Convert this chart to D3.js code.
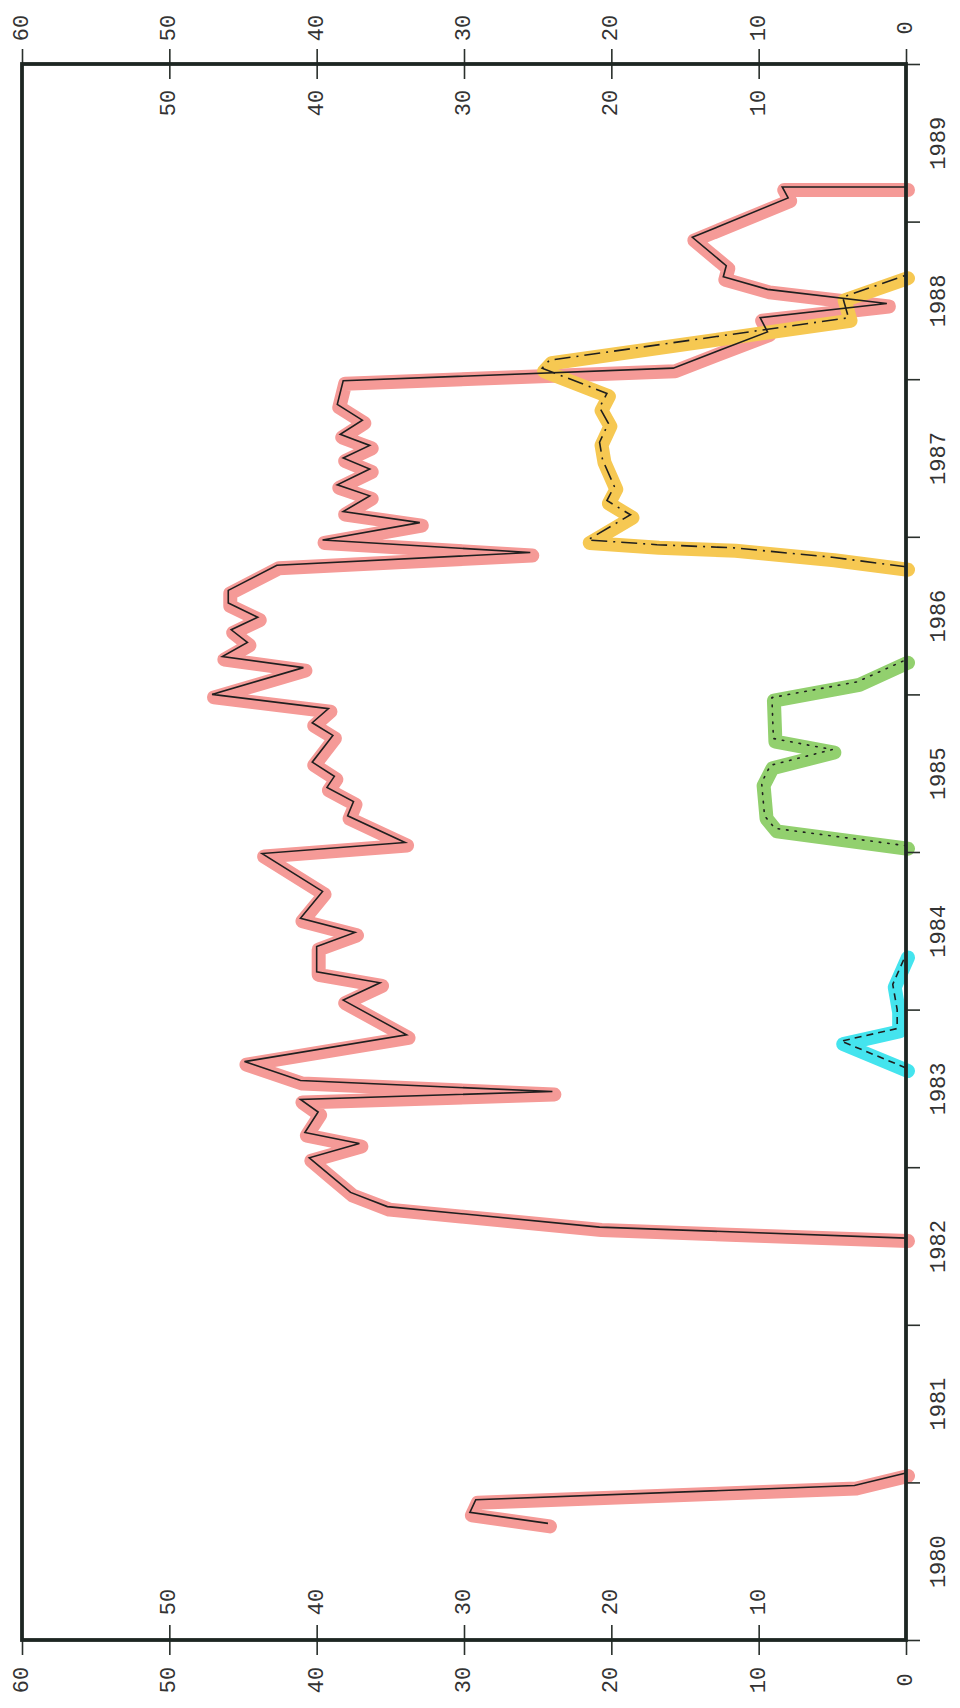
<!DOCTYPE html>
<html>
<head>
<meta charset="utf-8">
<script src="https://cdn.jsdelivr.net/npm/d3@7"></script>
<style>
  body { margin: 0; background: #fff; }
  .tick text { font-family: "Liberation Mono", "DejaVu Sans Mono", monospace; font-size: 22px; fill: #333; }
  .tick line { stroke: #2a302c; stroke-width: 1.6; }
  .domain { display: none; }
</style>
</head>
<body>
<div id="chart"></div>
<script>
// valeurs (annee decimale, valeur)
var redTime = [1980.74, 1980.81, 1980.89, 1980.98, 1981.06,
  1982.55, 1982.62, 1982.75, 1982.84, 1982.95, 1983.06, 1983.15, 1983.22, 1983.35, 1983.43,
  1983.48, 1983.55, 1983.67, 1983.84, 1984.06, 1984.17, 1984.24, 1984.40, 1984.49, 1984.58,
  1984.75, 1984.99, 1985.06, 1985.23, 1985.32, 1985.41, 1985.48, 1985.57, 1985.74, 1985.82,
  1985.91, 1986.00, 1986.17, 1986.24, 1986.33, 1986.41, 1986.49, 1986.58, 1986.66, 1986.82,
  1986.90, 1986.98, 1987.09, 1987.16, 1987.26, 1987.33, 1987.43, 1987.50, 1987.58, 1987.65,
  1987.74, 1987.84, 1987.99, 1988.07, 1988.30, 1988.39, 1988.48, 1988.57, 1988.65, 1988.72,
  1988.90, 1989.15, 1989.22, 1989.22];
var redValue = [24.3, 29.6, 29.2, 3.5, 0,
  0, 20.8, 35.2, 37.7, 39.1, 40.5, 37.1, 40.8, 39.9, 41.1,
  24.0, 41.1, 44.9, 33.9, 38.2, 35.7, 40.0, 40.0, 37.4, 41.1,
  39.6, 43.7, 34.0, 37.9, 37.5, 39.3, 38.8, 40.3, 38.9, 40.3,
  39.2, 47.1, 40.9, 46.4, 44.7, 45.8, 44.0, 46.0, 46.0, 42.7,
  25.5, 39.6, 33.0, 38.2, 36.4, 38.6, 36.4, 38.2, 36.4, 38.4,
  36.9, 38.6, 38.2, 15.8, 9.4, 9.9, 1.3, 9.4, 12.4, 12.2,
  14.5, 8.0, 8.4, 0];
// coupure entre 1981 et 1982 (pas de donnees)
var redGap = [1981.5];

var cyanTime = [1983.63, 1983.80, 1983.88, 1984.00, 1984.16, 1984.35];
var cyanValue = [0, 4.4, 0.6, 0.6, 0.9, 0];

var greenTime = [1985.04, 1985.15, 1985.23, 1985.44, 1985.55, 1985.65, 1985.72, 1985.98, 1986.08, 1986.22];
var greenValue = [0, 8.9, 9.6, 9.8, 9.2, 5.0, 9.0, 9.1, 3.3, 0];

var yellowTime = [1986.81, 1986.87, 1986.93, 1986.95, 1986.98, 1987.14, 1987.23, 1987.32, 1987.49,
  1987.60, 1987.72, 1987.82, 1987.91, 1988.07, 1988.12, 1988.39, 1988.52, 1988.66];
var yellowValue = [0, 5.0, 11.7, 16.9, 21.6, 18.7, 20.3, 19.8, 20.6,
  20.8, 20.2, 20.8, 20.3, 24.7, 24.2, 3.9, 4.3, 0];

var valueTicks = [60, 50, 40, 30, 20, 10, 0];
var innerTicks = [50, 40, 30, 20, 10];
var yearTicks = [1980, 1981, 1982, 1983, 1984, 1985, 1986, 1987, 1988, 1989, 1990];
var yearLabels = [1980, 1981, 1982, 1983, 1984, 1985, 1986, 1987, 1988, 1989];

// dimensions du cadre
var totalWidth = 960, totalHeight = 1708,
    frame = {left: 22, right: 906, top: 64, bottom: 1640};

var x = d3.scaleLinear().domain([60, 0]).range([frame.left, frame.right]),
    y = d3.scaleLinear().domain([1980, 1990]).range([frame.bottom, frame.top]);

var svg = d3.select("#chart").append("svg")
    .attr("width", totalWidth)
    .attr("height", totalHeight);

function toPoints(times, values) {
    return times.map(function(t, i) { return {t: t, v: values[i]}; });
}

var series = [
    {pts: toPoints(redTime, redValue), color: "#f59a97", dash: null},
    {pts: toPoints(cyanTime, cyanValue), color: "#44e4ee", dash: "7,5"},
    {pts: toPoints(greenTime, greenValue), color: "#92d06e", dash: "1.5,7"},
    {pts: toPoints(yellowTime, yellowValue), color: "#f6c852", dash: "16,6,2,6"}
];

var line = d3.line()
    .x(function(d) { return x(d.v); })
    .y(function(d) { return y(d.t); });

// decoupe une serie aux trous
function pieces(pts) {
    var out = [[]];
    pts.forEach(function(d, i) {
        if (i > 0 && redGap.some(function(g) { return pts[i - 1].t < g && d.t > g; })) out.push([]);
        out[out.length - 1].push(d);
    });
    return out;
}

// surlignage au feutre
var hl = svg.append("g").style("mix-blend-mode", "multiply");
series.forEach(function(s) {
    pieces(s.pts).forEach(function(p) {
        hl.append("path")
            .attr("d", line(p))
            .attr("fill", "none")
            .attr("stroke", s.color)
            .attr("stroke-width", 14)
            .attr("stroke-linejoin", "round")
            .attr("stroke-linecap", "round")
            .attr("transform", "translate(2,3)");
    });
});

// traits noirs
series.forEach(function(s) {
    pieces(s.pts).forEach(function(p) {
        svg.append("path")
            .attr("d", line(p))
            .attr("fill", "none")
            .attr("stroke", "#1f1f1f")
            .attr("stroke-width", 1.6)
            .attr("stroke-linecap", s.dash === "1.5,7" ? "round" : "butt")
            .attr("stroke-dasharray", s.dash);
    });
});

// etiquettes tournees
function rotLabels(g, offset) {
    g.selectAll(".tick text")
        .attr("x", 0).attr("y", 0).attr("dy", null)
        .attr("text-anchor", "middle")
        .attr("dominant-baseline", "central")
        .attr("transform", "translate(0," + offset + ") rotate(-90)");
}

// axes du haut
svg.append("g")
    .attr("transform", "translate(0," + frame.top + ")")
    .call(d3.axisTop(x).tickValues(valueTicks).tickSize(15))
    .call(rotLabels, -36);
svg.append("g")
    .attr("transform", "translate(0," + frame.top + ")")
    .call(d3.axisBottom(x).tickValues(innerTicks).tickSize(15))
    .call(rotLabels, 39);

// axes du bas
svg.append("g")
    .attr("transform", "translate(0," + frame.bottom + ")")
    .call(d3.axisBottom(x).tickValues(valueTicks).tickSize(15))
    .call(rotLabels, 40);
svg.append("g")
    .attr("transform", "translate(0," + frame.bottom + ")")
    .call(d3.axisTop(x).tickValues(innerTicks).tickSize(15))
    .call(rotLabels, -38);

// axe des annees a droite
svg.append("g")
    .attr("transform", "translate(" + frame.right + ",0)")
    .call(d3.axisRight(y).tickValues(yearTicks).tickSize(14).tickFormat(""));
var yl = svg.append("g")
    .attr("transform", "translate(" + frame.right + ",0)")
    .call(d3.axisRight(y).tickValues(yearLabels.map(function(d) { return d + 0.5; }))
        .tickSize(0).tickFormat(function(d) { return Math.floor(d); }));
yl.selectAll(".tick text")
    .attr("x", 0).attr("dy", null)
    .attr("text-anchor", "middle")
    .attr("dominant-baseline", "central")
    .attr("transform", "translate(33,0) rotate(-90)");

// cadre
svg.append("rect")
    .attr("x", frame.left).attr("y", frame.top)
    .attr("width", frame.right - frame.left).attr("height", frame.bottom - frame.top)
    .attr("fill", "none")
    .attr("stroke", "#1d2622")
    .attr("stroke-width", 3.8);
</script>
</body>
</html>
